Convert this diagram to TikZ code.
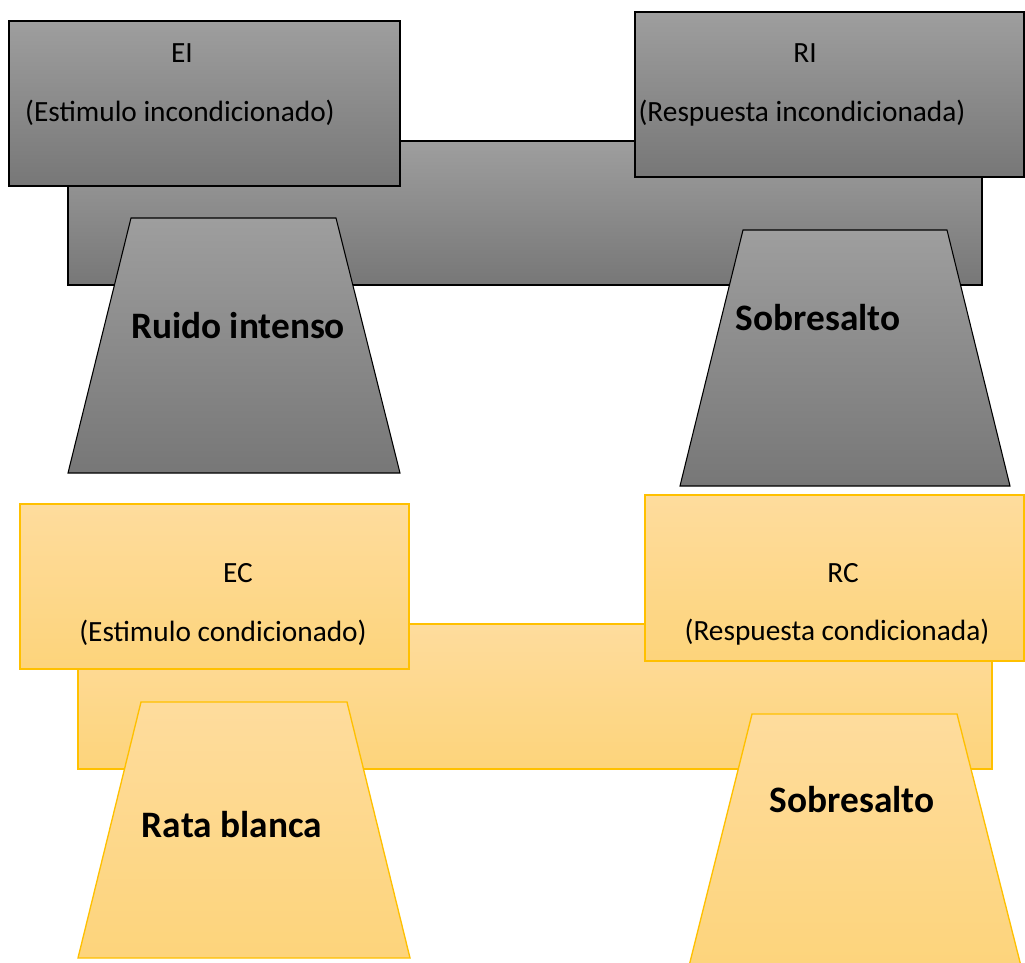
\documentclass[tikz,border=0pt]{standalone}
\usepackage{fontspec}
\setmainfont{Carlito}
\definecolor{grisArriba}{HTML}{9E9E9E}
\definecolor{grisAbajo}{HTML}{777777}
\definecolor{amarArriba}{HTML}{FEDC9D}
\definecolor{amarAbajo}{HTML}{FDD47B}
\definecolor{amarBorde}{HTML}{FFC000}
\tikzset{
  gris/.style={draw=black, line width=0.8pt, top color=grisArriba, bottom color=grisAbajo},
  amar/.style={draw=amarBorde, line width=1pt, top color=amarArriba, bottom color=amarAbajo},
  txt/.style={font=\fontsize{22}{26}\selectfont, inner sep=0pt},
  txtb/.style={font=\fontsize{28}{32}\selectfont\bfseries, inner sep=0pt}
}
\begin{document}
\begin{tikzpicture}[x=0.75pt, y=-0.75pt]
  \useasboundingbox (0,0) rectangle (1025,963);
  % Incondicionado (gris)
  \draw[gris] (68,141) rectangle (982,285); % barra
  \draw[gris] (9,21) rectangle (400,186); % EI
  \draw[gris] (635,12) rectangle (1024,177); % RI
  \draw[gris] (131,218) -- (336,218) -- (400,473) -- (68,473) -- cycle;
  \draw[gris] (743,230) -- (947,230) -- (1010,486) -- (680,486) -- cycle;
  \node[txt] (ei) at (182,53) {EI};
  \node[txt] (eiTxt) at (180,113) {(Estimulo incondicionado)};
  \node[txt] (ri) at (805,53) {RI};
  \node[txt] (riTxt) at (802,113) {(Respuesta incondicionada)};
  \node[txtb] (ruido) at (238,326) {Ruido intenso};
  \node[txtb] (sobreA) at (818,318) {Sobresalto};
  % Condicionado (amarillo)
  \draw[amar] (78,624) rectangle (992,769); % barra
  \draw[amar] (20,504) rectangle (409,669); % EC
  \draw[amar] (645,495) rectangle (1024,661); % RC
  \draw[amar] (141,702) -- (347,702) -- (410,958) -- (78,958) -- cycle;
  \draw[amar] (752,714) -- (957,714) -- (1022,970) -- (688,970) -- cycle;
  \node[txt] (ec) at (238,573) {EC};
  \node[txt] (ecTxt) at (223,633) {(Estimulo condicionado)};
  \node[txt] (rc) at (843,573) {RC};
  \node[txt] (rcTxt) at (837,632) {(Respuesta condicionada)};
  \node[txtb] (rata) at (232,825) {Rata blanca};
  \node[txtb] (sobreB) at (852,800) {Sobresalto};
\end{tikzpicture}
\end{document}
